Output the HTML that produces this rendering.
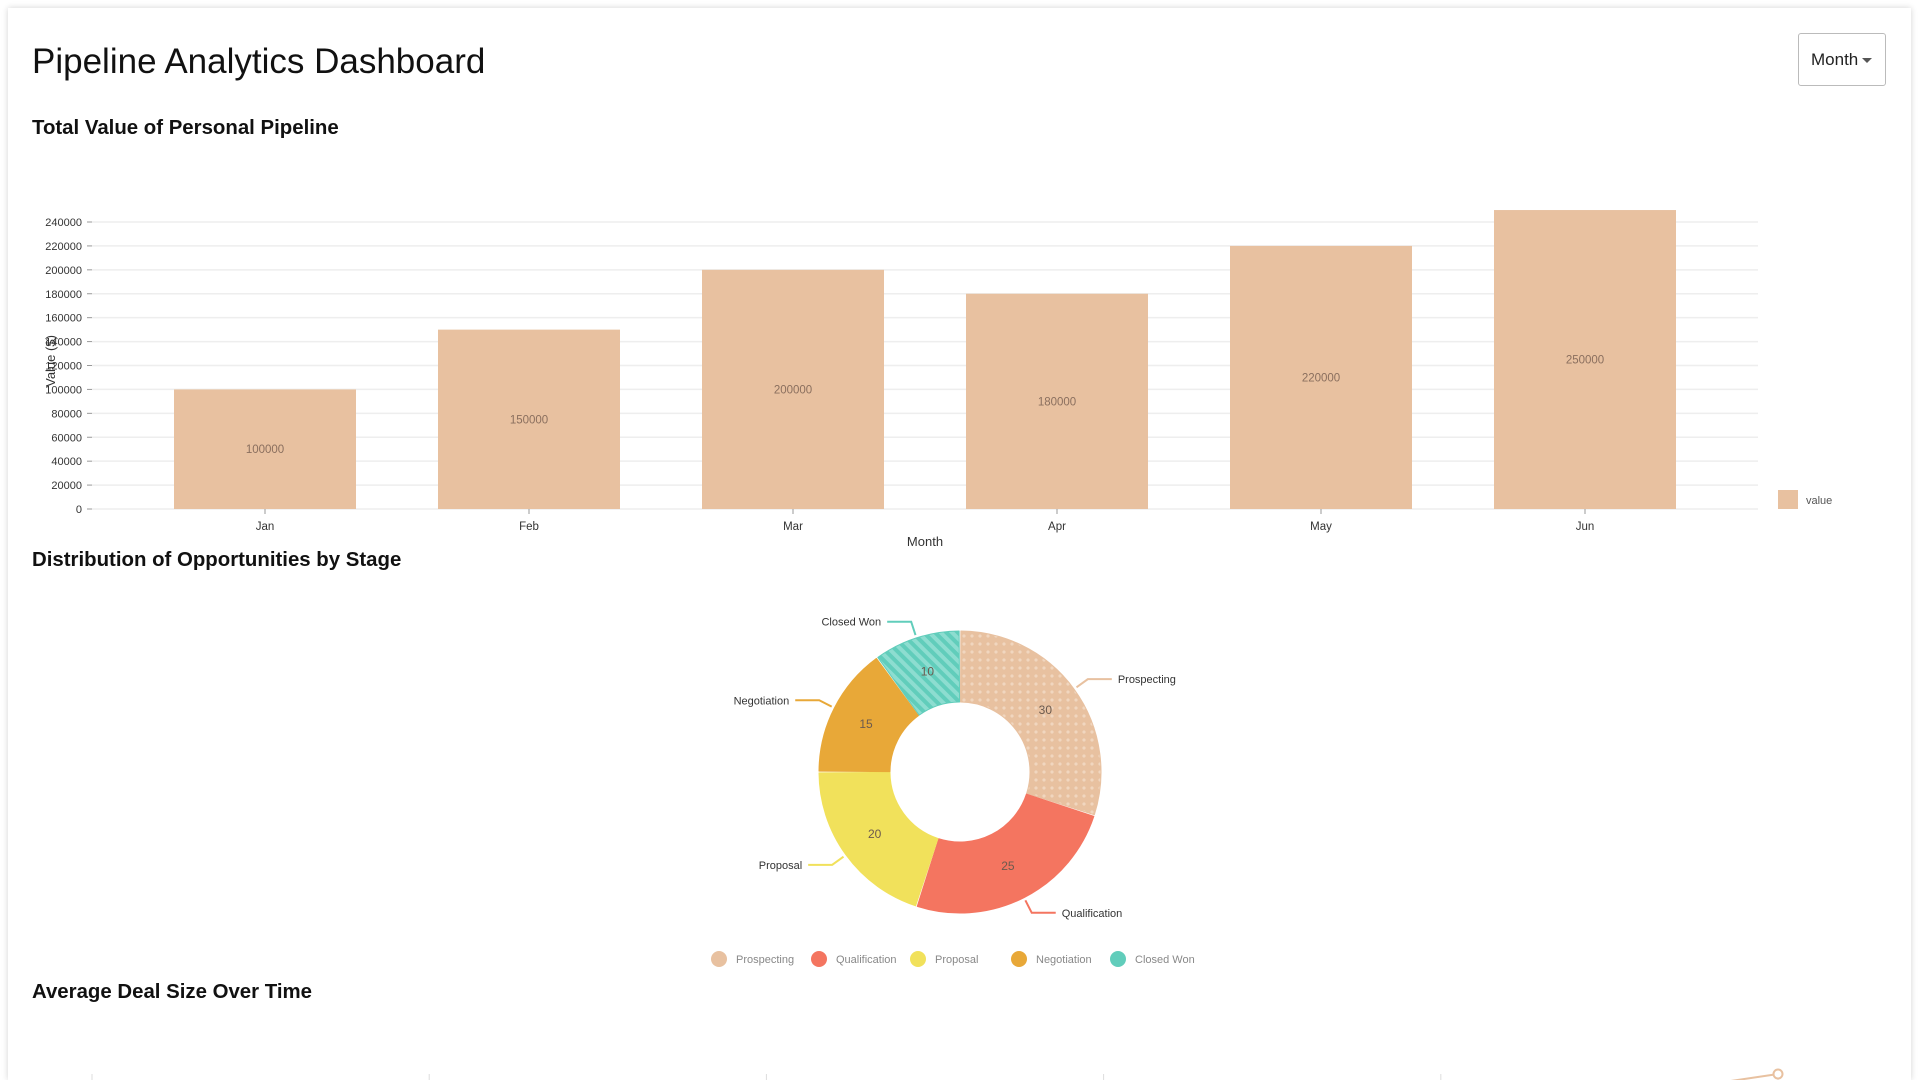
<!DOCTYPE html>
<html><head><meta charset="utf-8">
<style>
html,body{margin:0;padding:0;width:1920px;height:1080px;overflow:hidden;background:#fff;font-family:"Liberation Sans",Arial,sans-serif;}
.card{position:absolute;left:8px;top:8px;width:1903px;height:1072px;background:#fff;box-shadow:0 0 6px rgba(0,0,0,0.18);}
h1{position:absolute;left:32px;top:42px;margin:0;font-size:35px;font-weight:400;color:#111;}
h2{position:absolute;left:32px;margin:0;font-size:20.4px;font-weight:700;color:#111;}
.dd{position:absolute;left:1798px;top:33px;width:88px;height:53px;border:1px solid #bbb;border-radius:3px;box-sizing:border-box;font-size:17px;color:#222;line-height:51px;padding-left:12px;background:#fff;}
.dd:after{content:"";position:absolute;right:13px;top:24px;border-left:5px solid transparent;border-right:5px solid transparent;border-top:5px solid #555;}
svg{position:absolute;left:0;top:0;}
</style></head><body>
<div class="card"></div>
<h1>Pipeline Analytics Dashboard</h1>
<div class="dd">Month</div>
<h2 style="top:117px">Total Value of Personal Pipeline</h2>
<h2 style="top:549px">Distribution of Opportunities by Stage</h2>
<h2 style="top:981px">Average Deal Size Over Time</h2>
<svg id="chart" width="1920" height="1080">
<defs>
<pattern id="dots" width="8" height="8" patternUnits="userSpaceOnUse"><rect width="8" height="8" fill="#e8c1a0"/><circle cx="4" cy="4" r="1.6" fill="#f1d6bf"/></pattern>
<pattern id="lines" width="8" height="8" patternUnits="userSpaceOnUse" patternTransform="rotate(-45)"><rect width="8" height="8" fill="#61cdbb"/><rect width="4" height="8" fill="#8dddd0"/></pattern>
</defs>
</svg>
<script>
const months=["Jan","Feb","Mar","Apr","May","Jun"];
const pipelineValues=[100000,150000,200000,180000,220000,250000];
const yTicks=[0,20000,40000,60000,80000,100000,120000,140000,160000,180000,200000,220000,240000];
const stages=["Prospecting","Qualification","Proposal","Negotiation","Closed Won"];
const stageValues=[30,25,20,15,10];
const stageColors=["#e8c1a0","#f47560","#f1e15b","#e8a838","#61cdbb"];
const stageFills=["url(#dots)","#f47560","#f1e15b","#e8a838","url(#lines)"];
const dealMonths=["Jan","Feb","Mar","Apr","May","Jun"];
const dealValues=[12000,14000,15000,16000,17500,21000];

const svg=document.getElementById('chart');
const NS="http://www.w3.org/2000/svg";
function mk(tag,attrs,parent){const e=document.createElementNS(NS,tag);for(const k in attrs)e.setAttribute(k,attrs[k]);(parent||svg).appendChild(e);return e;}

// Bar chart
const x0=92,x1=1758,yBase=509,yTop=222,yMax=240000;
function yS(v){return yBase-v/yMax*(yBase-yTop);}
function xC(i){return 265+i*264;}
const barW=182;
yTicks.forEach(t=>{
  const g=mk('line',{x1:x0,x2:x1,y1:yS(t),y2:yS(t),stroke:'#eee','stroke-width':1.5});
  
  
  mk('line',{x1:x0-5,x2:x0,y1:yS(t),y2:yS(t),stroke:'#999'});
  const tx=mk('text',{x:x0-10,y:yS(t)+4,'text-anchor':'end','font-size':11,fill:'#333'});
  tx.textContent=t;
  
  
});
pipelineValues.forEach((v,i)=>{
  const r=mk('rect',{x:xC(i)-barW/2,y:yS(v),width:barW,height:yBase-yS(v),fill:'#e8c1a0'});
  
  
  const l=mk('text',{x:xC(i),y:(yS(v)+yBase)/2+4,'text-anchor':'middle','font-size':11.5,fill:'#8a6f5e'});
  l.textContent=v;
  
  
  mk('line',{x1:xC(i),x2:xC(i),y1:yBase,y2:yBase+5,stroke:'#999'});
  const xl=mk('text',{x:xC(i),y:yBase+21,'text-anchor':'middle','font-size':11.5,fill:'#333'});
  xl.textContent=months[i];
  
  
});
const xt=mk('text',{x:925,y:546,'text-anchor':'middle','font-size':13,fill:'#333'});xt.textContent='Month';


const yt=mk('text',{x:0,y:0,transform:'translate(55,361) rotate(-90)','text-anchor':'middle','font-size':13,fill:'#333'});yt.textContent='Value ($)';


const lr=mk('rect',{x:1778,y:490,width:20,height:19,fill:'#e8c1a0'});


const lt=mk('text',{x:1806,y:504,'font-size':11,fill:'#555'});lt.textContent='value';



// Donut
const cx=960,cy=772,R=141,r0=70,pad=0.7*Math.PI/180;
const total=stageValues.reduce((a,b)=>a+b,0);
function pt(a,rad){return [cx+Math.sin(a)*rad,cy-Math.cos(a)*rad];}
let acc=0;
stageValues.forEach((v,i)=>{
  const a0=acc/total*2*Math.PI+pad/2, a1=(acc+v)/total*2*Math.PI-pad/2; acc+=v;
  const big=(a1-a0)>Math.PI?1:0;
  const p1=pt(a0,R),p2=pt(a1,R),p3=pt(a1,r0),p4=pt(a0,r0);
  const d=`M${p1}A${R},${R} 0 ${big} 1 ${p2}L${p3}A${r0},${r0} 0 ${big} 0 ${p4}Z`;
  const s=mk('path',{d:d,fill:stageFills[i],stroke:stageColors[i],'stroke-width':1,'stroke-linejoin':'round'});
  
  
  const am=(a0+a1)/2;
  const lp=pt(am,(R+r0)/2);
  const vl=mk('text',{x:lp[0],y:lp[1]+4,'text-anchor':'middle','font-size':12,fill:'#6b5a4e'});vl.textContent=v;
  
  
  const q1=pt(am,R+3),q2=pt(am,R+17);
  const right=Math.sin(am)>=0;
  const q3=[q2[0]+(right?24:-24),q2[1]];
  mk('polyline',{points:`${q1} ${q2} ${q3}`,fill:'none',stroke:stageColors[i],'stroke-width':2});
  const tl=mk('text',{x:q3[0]+(right?6:-6),y:q3[1]+4,'text-anchor':right?'start':'end','font-size':11,fill:'#333'});
  tl.textContent=stages[i];
  
  
});
// donut legend
const legX=[719,819,918,1019,1118];
stages.forEach((s,i)=>{
  const c=mk('circle',{cx:legX[i],cy:959,r:8,fill:stageColors[i]});
  
  
  const t=mk('text',{x:legX[i]+17,y:963,'font-size':11,fill:'#888'});t.textContent=s;
  
  
});

// Line chart (only top sliver visible)
const lx0=92,lStep=337.2,lyTop=1074,lMax=21000;
function lx(i){return lx0+i*lStep;}
function ly(v){return lyTop+(lMax-v)/lMax*300;}
dealMonths.forEach((m,i)=>{
  const g=mk('line',{x1:lx(i),x2:lx(i),y1:1074,y2:1080,stroke:'#ddd'});
  
  
});
let dpts=dealValues.map((v,i)=>[lx(i),ly(v)]);
mk('polyline',{points:dpts.map(p=>p.join(',')).join(' '),fill:'none',stroke:'#e8c1a0','stroke-width':2});
dpts.forEach((p,i)=>{
  const c=mk('circle',{cx:p[0],cy:p[1],r:4.5,fill:'#fff',stroke:'#e8c1a0','stroke-width':2});
  
  
});
</script>
</body></html>
